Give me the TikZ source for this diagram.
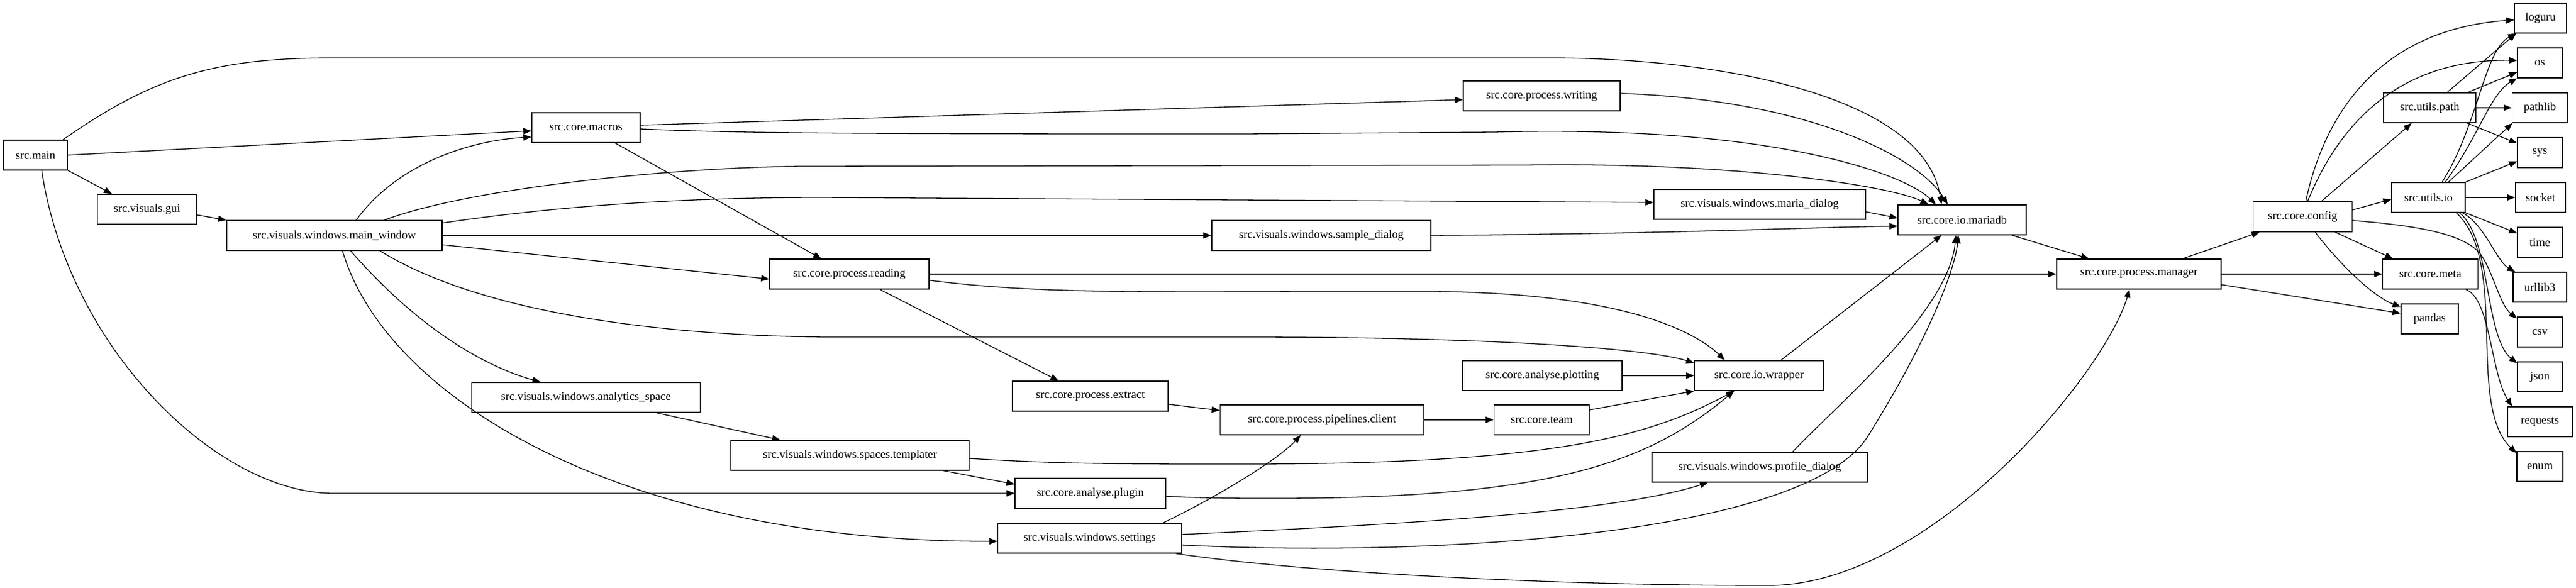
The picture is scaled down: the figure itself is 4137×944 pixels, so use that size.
\documentclass[tikz,border=0pt]{standalone}
\usepackage{fontspec}
\setmainfont{Liberation Serif}
\usetikzlibrary{arrows.meta}
\begin{document}
\begin{tikzpicture}[x=1pt,y=-1pt,
  n/.style={draw,rectangle,line width=1.3pt,minimum height=48pt,inner sep=0pt,font=\fontsize{18.7}{22}\selectfont},
  e/.style={line width=1.3pt,-{Triangle[length=13pt,width=10pt]}}]
\useasboundingbox (0,0) rectangle (4137,944);
\node[n,minimum width=103pt] (main) at (57,249) {src.main};
\node[n,minimum width=159pt] (gui) at (236,336) {src.visuals.gui};
\node[n,minimum width=346pt] (mw) at (537,378) {src.visuals.windows.main\_window};
\node[n,minimum width=174pt] (macros) at (941,205) {src.core.macros};
\node[n,minimum width=256pt] (reading) at (1364,440) {src.core.process.reading};
\node[n,minimum width=367pt] (analytics) at (941,638) {src.visuals.windows.analytics\_space};
\node[n,minimum width=383pt] (templater) at (1365,731) {src.visuals.windows.spaces.templater};
\node[n,minimum width=250pt] (extract) at (1751,636) {src.core.process.extract};
\node[n,minimum width=242pt] (plugin) at (1751,792) {src.core.analyse.plugin};
\node[n,minimum width=295pt] (settings) at (1750,864) {src.visuals.windows.settings};
\node[n,minimum width=327pt] (pipelines) at (2123,674) {src.core.process.pipelines.client};
\node[n,minimum width=352pt] (sample) at (2122,378) {src.visuals.windows.sample\_dialog};
\node[n,minimum width=252pt] (writing) at (2476,154) {src.core.process.writing};
\node[n,minimum width=256pt] (plotting) at (2477,603) {src.core.analyse.plotting};
\node[n,minimum width=153pt] (team) at (2476,674) {src.core.team};
\node[n,minimum width=340pt] (maria) at (2826,328) {src.visuals.windows.maria\_dialog};
\node[n,minimum width=207pt] (wrapper) at (2825,603) {src.core.io.wrapper};
\node[n,minimum width=346pt] (profile) at (2826,750) {src.visuals.windows.profile\_dialog};
\node[n,minimum width=206pt] (mariadb) at (3151,353) {src.core.io.mariadb};
\node[n,minimum width=264pt] (manager) at (3435,440) {src.core.process.manager};
\node[n,minimum width=159pt] (config) at (3698,348) {src.core.config};
\node[n,minimum width=148pt] (path) at (3902,173) {src.utils.path};
\node[n,minimum width=118pt] (io) at (3900,317) {src.utils.io};
\node[n,minimum width=153pt] (meta) at (3903,440) {src.core.meta};
\node[n,minimum width=92pt] (pandas) at (3902,512) {pandas};
\node[n,minimum width=83pt] (loguru) at (4080,29) {loguru};
\node[n,minimum width=72pt] (os) at (4079,101) {os};
\node[n,minimum width=89pt] (pathlib) at (4079,173) {pathlib};
\node[n,minimum width=72pt] (sys) at (4079,245) {sys};
\node[n,minimum width=80pt] (socket) at (4080,317) {socket};
\node[n,minimum width=72pt] (time) at (4079,389) {time};
\node[n,minimum width=86pt] (urllib3) at (4079,461) {urllib3};
\node[n,minimum width=72pt] (csv) at (4079,533) {csv};
\node[n,minimum width=72pt] (json) at (4079,605) {json};
\node[n,minimum width=104pt] (requests) at (4079,677) {requests};
\node[n,minimum width=74pt] (enum) at (4079,749) {enum};

% src.main
\draw[e] ([xshift=-8pt]main.north east) .. controls (250,120) and (350,93) .. (535,93) -- (2490,93) .. controls (2750,93) and (3090,150) .. ([xshift=-33pt]mariadb.north);
\draw[e] (main.east) -- ([yshift=-5pt]macros.west);
\draw[e] (main.south east) -- ([xshift=-56pt]gui.north);
\draw[e] ([xshift=10pt]main.south) .. controls (110,560) and (350,792) .. (535,792) -- (plugin.west);
\draw[e] ([yshift=-9pt]gui.east) -- (mw.north west);
% main_window
\draw[e] ([xshift=35pt]mw.north) .. controls (640,260) and (760,225) .. ([yshift=-15pt]macros.west);
\draw[e] ([xshift=80pt]mw.north) .. controls (760,300) and (1100,267) .. (1300,267) -- (2450,265) .. controls (2800,260) and (3040,300) .. ([xshift=-54pt]mariadb.north);
\draw[e] ([yshift=20pt]mw.east) .. controls (900,330) and (1100,317) .. (1320,317) -- ([yshift=3pt]maria.west);
\draw[e] (mw.east) -- (sample.west);
\draw[e] ([yshift=-15pt]mw.east) -- ([yshift=-8pt]reading.west);
\draw[e] ([xshift=73pt]mw.south) .. controls (800,520) and (1150,541) .. (1340,541) -- (2000,541) .. controls (2400,541) and (2650,560) .. ([yshift=20pt]wrapper.west);
\draw[e] ([xshift=26pt]mw.south) .. controls (700,560) and (820,600) .. ([xshift=-73pt]analytics.north);
\draw[e] ([xshift=13pt]mw.south) .. controls (620,640) and (1000,870) .. ([yshift=-5pt]settings.west);
% macros
\draw[e] ([yshift=4pt]macros.east) -- ([yshift=-6pt]writing.west);
\draw[e] ([yshift=-2pt]macros.east) .. controls (1200,215) and (1500,215) .. (2000,215) -- (2400,212) .. controls (2850,200) and (3060,280) .. ([xshift=-42pt]mariadb.north);
\draw[e] ([xshift=47pt]macros.south) -- ([xshift=-45pt]reading.north);
% reading
\draw[e] (reading.east) -- (manager.west);
\draw[e] ([yshift=-10pt]reading.east) .. controls (1650,470) and (1800,469) .. (2100,468) -- (2300,468) .. controls (2600,470) and (2720,530) .. ([xshift=-55pt]wrapper.north);
\draw[e] ([xshift=49pt]reading.south) -- ([xshift=-51pt]extract.north);
\draw[e] ([xshift=113pt]analytics.south) -- ([xshift=-112pt]templater.north);
\draw[e] ([yshift=-13pt]extract.east) -- ([yshift=15pt]pipelines.west);
\draw[e] ([yshift=-5pt]templater.east) .. controls (1700,745) and (1800,745) .. (2000,745) .. controls (2500,745) and (2650,700) .. ([xshift=-40pt]wrapper.south);
\draw[e] ([xshift=150pt]templater.south) -- ([yshift=-10pt]plugin.north west);
\draw[e] ([yshift=-5pt]plugin.east) .. controls (1950,800) and (1980,800) .. (2050,800) .. controls (2500,800) and (2650,740) .. ([xshift=-40pt]wrapper.south);
% settings
\draw[e] ([xshift=118pt]settings.north) .. controls (1950,800) and (2050,740) .. ([xshift=-34pt]pipelines.south);
\draw[e] ([yshift=6pt]settings.east) .. controls (2300,840) and (2600,820) .. ([xshift=-83pt]profile.south);
\draw[e] ([yshift=-11pt]settings.east) .. controls (2300,895) and (2900,860) .. (3000,700) .. controls (3100,540) and (3140,430) .. ([xshift=-6pt]mariadb.south);
\draw[e] ([xshift=-10pt]settings.south east) .. controls (2100,920) and (2500,940) .. (2840,940) .. controls (3100,940) and (3380,600) .. ([xshift=-15pt]manager.south);
\draw[e] (pipelines.east) -- (team.west);
\draw[e] ([yshift=16pt]team.east) -- (wrapper.south west);
\draw[e] (plotting.east) -- (wrapper.west);
\draw[e] ([xshift=35pt]wrapper.north) -- ([xshift=-33pt]mariadb.south);
\draw[e] ([xshift=53pt]profile.north) .. controls (2950,650) and (3130,500) .. ([xshift=-10pt]mariadb.south);
\draw[e] (sample.east) .. controls (2700,375) and (2900,365) .. ([yshift=-10pt]mariadb.west);
\draw[e] ([yshift=-12pt]maria.east) -- ([yshift=3pt]mariadb.west);
\draw[e] ([yshift=4pt]writing.east) .. controls (2900,160) and (3080,250) .. ([xshift=-23pt]mariadb.north);
% manager / config
\draw[e] ([xshift=80pt]mariadb.south) -- ([xshift=-80pt]manager.north);
\draw[e] ([xshift=70pt]manager.north) -- ([xshift=-69pt]config.south);
\draw[e] (manager.east) -- (meta.west);
\draw[e] ([yshift=-17pt]manager.east) -- ([yshift=9pt]pandas.west);
\draw[e] ([xshift=30pt]config.north) -- ([xshift=-29pt]path.south);
\draw[e] ([yshift=11pt]config.east) -- ([yshift=-3pt]io.west);
\draw[e] ([xshift=5pt]config.north) .. controls (3740,150) and (3850,45) .. ([yshift=-3pt]loguru.west);
\draw[e] ([xshift=8pt]config.north) .. controls (3760,190) and (3860,95) .. ([yshift=4pt]os.west);
\draw[e] ([xshift=52pt]config.south) -- ([xshift=-60pt]meta.north);
\draw[e] ([xshift=20pt]config.south) .. controls (3770,440) and (3820,480) .. ([yshift=-5pt]pandas.north west);
\draw[e] ([yshift=-6pt]config.east) .. controls (3880,362) and (3960,375) .. (3985,410) .. controls (4005,440) and (4015,490) .. ([yshift=-3pt]csv.north west);
% utils.io
\draw[e] (io.south east) -- ([yshift=-10pt]time.north west);
\draw[e] ([xshift=-5pt]io.south east) .. controls (3990,360) and (4010,420) .. ([xshift=4pt]urllib3.north west);
\draw[e] ([xshift=-10pt]io.south east) .. controls (4000,380) and (3990,540) .. ([yshift=-3pt]json.north west);
\draw[e] ([xshift=-15pt]io.south east) .. controls (4030,420) and (3960,650) .. ([yshift=-3pt]enum.north west);
\draw[e] ([xshift=-20pt]meta.south east) .. controls (4000,480) and (4000,600) .. ([xshift=8pt]requests.north west);
\draw[e] ([xshift=22pt]io.north) .. controls (3980,200) and (3990,80) .. ([xshift=3pt]loguru.south west);
\draw[e] ([xshift=27pt]io.north) .. controls (3980,220) and (4000,150) .. (os.south west);
\draw[e] ([xshift=32pt]io.north) -- ([xshift=1pt]pathlib.south west);
\draw[e] (io.north east) -- ([yshift=-14pt]sys.west);
\draw[e] (io.east) -- (socket.west);
% utils.path
\draw[e] ([xshift=28pt]path.north) -- ([xshift=3pt]loguru.south west);
\draw[e] ([xshift=61pt]path.north) -- ([yshift=-15pt]os.west);
\draw[e] (path.east) -- (pathlib.west);
\draw[e] ([xshift=60pt]path.south) -- ([yshift=15pt]sys.west);
\end{tikzpicture}
\end{document}
